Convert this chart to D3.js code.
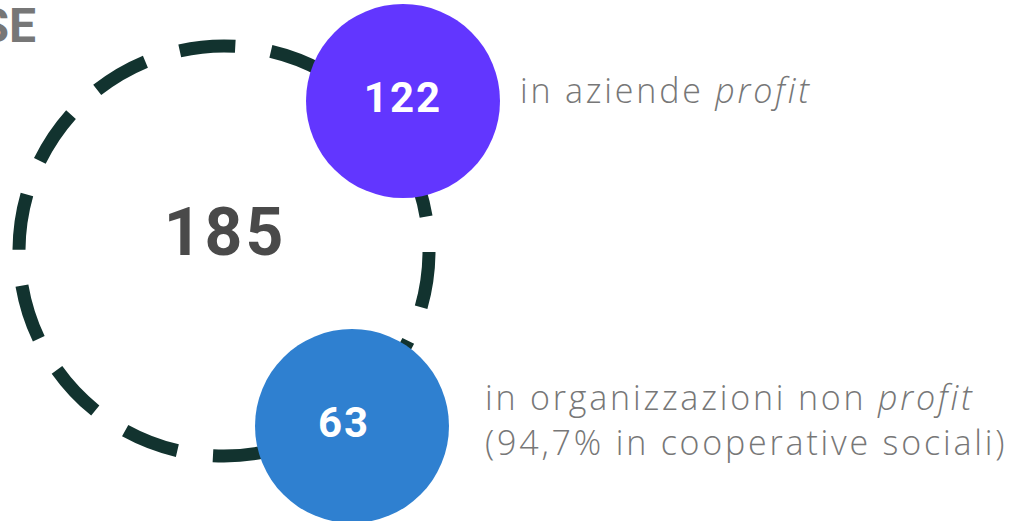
<!DOCTYPE html>
<html>
<head>
<meta charset="utf-8">
<script src="https://cdn.jsdelivr.net/npm/d3@7"></script>
<style>
  body { margin: 0; background: #fff; }
  svg { display: block; }
</style>
</head>
<body>
<svg id="chart" width="1014" height="521"></svg>
<script>
// data
const titleFragment = 'SE'
const totalValue = 185
const groupKeys = ['profit', 'nonprofit']
const groupValues = [122, 63]
const groupColors = ['#6236ff', '#2f80d0']
const groupLabels = [
    [['in aziende ', false], ['profit', true]],
    [['in organizzazioni non ', false], ['profit', true]]
]
const groupNotes = ['', '(94,7% in cooperative sociali)']

const NUM_FONT = 'Roboto, "DejaVu Sans", sans-serif'
const LABEL_FONT = '"Open Sans", Lato, sans-serif'
const GREY = '#777777'
const LABEL_SPACING = 2.8

const svg = d3.select('#chart')

// big dashed ring with total
const ring = {cx: 224, cy: 251, r: 205}

svg.append('circle')
    .attr('cx', ring.cx)
    .attr('cy', ring.cy)
    .attr('r', ring.r)
    .attr('fill', 'none')
    .attr('stroke', '#12332f')
    .attr('stroke-width', 13)
    .attr('stroke-dasharray', '56,36')
    .attr('stroke-dashoffset', -1)

svg.append('text')
    .attr('x', ring.cx + 1)
    .attr('y', ring.cy + 4)
    .attr('text-anchor', 'middle')
    .attr('font-family', NUM_FONT)
    .attr('font-weight', 700)
    .attr('font-size', 66)
    .attr('letter-spacing', 3)
    .attr('fill', '#4a4a4a')
    .text(totalValue)

// fragment of a title that is cut by the left edge
svg.append('text')
    .attr('x', 36)
    .attr('y', 42)
    .attr('text-anchor', 'end')
    .attr('font-family', NUM_FONT)
    .attr('font-weight', 700)
    .attr('font-size', 48)
    .attr('fill', GREY)
    .text(titleFragment)

// bubbles
const pos = d3.scaleOrdinal().domain(groupKeys).range([
    {cx: 403, cy: 101, tx: 0, labelX: 520, labelY: 103},
    {cx: 352, cy: 426, tx: -8, labelX: 485, labelY: 410}
])
const radius = 97

const g = svg.selectAll('.bubble')
    .data(groupKeys.map((k, i) => ({key: k, value: groupValues[i], color: groupColors[i], label: groupLabels[i], note: groupNotes[i]})))
    .join('g')
    .attr('class', 'bubble')

g.append('circle')
    .attr('cx', d => pos(d.key).cx)
    .attr('cy', d => pos(d.key).cy)
    .attr('r', radius)
    .attr('fill', d => d.color)

g.append('text')
    .attr('x', d => pos(d.key).cx + pos(d.key).tx)
    .attr('y', d => pos(d.key).cy + 11)
    .attr('text-anchor', 'middle')
    .attr('font-family', NUM_FONT)
    .attr('font-weight', 700)
    .attr('font-size', 42)
    .attr('letter-spacing', 2)
    .attr('fill', '#fff')
    .text(d => d.value)

const label = g.append('text')
    .attr('x', d => pos(d.key).labelX)
    .attr('y', d => pos(d.key).labelY)
    .attr('font-family', LABEL_FONT)
    .attr('font-weight', 300)
    .attr('font-size', 34)
    .attr('letter-spacing', LABEL_SPACING)
    .attr('fill', GREY)

label.selectAll('tspan')
    .data(d => d.label)
    .join('tspan')
    .attr('font-style', d => d[1] ? 'italic' : 'normal')
    .text(d => d[0])

g.filter(d => d.note)
    .append('text')
    .attr('x', d => pos(d.key).labelX)
    .attr('y', d => pos(d.key).labelY + 45)
    .attr('font-family', LABEL_FONT)
    .attr('font-weight', 300)
    .attr('font-size', 34)
    .attr('letter-spacing', LABEL_SPACING)
    .attr('fill', GREY)
    .text(d => d.note)
</script>
</body>
</html>
